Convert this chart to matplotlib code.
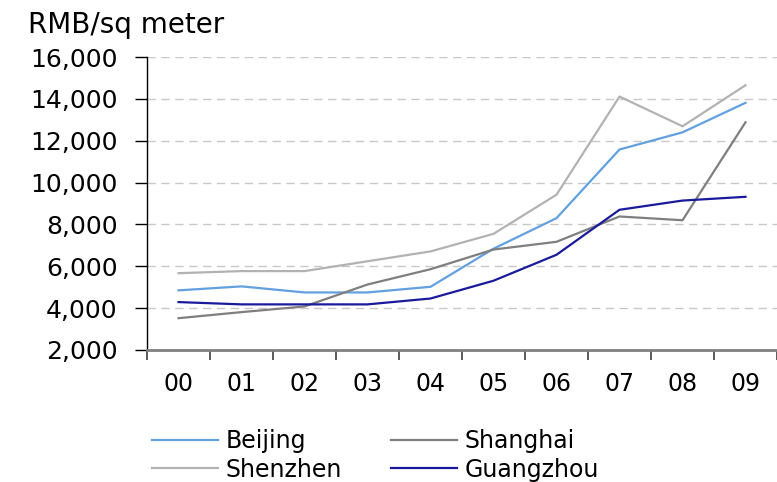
import matplotlib
matplotlib.use("Agg")
import matplotlib.pyplot as plt
import numpy as np

plt.rcParams['font.family'] = ['DejaVu Sans']

years = ["00", "01", "02", "03", "04", "05", "06", "07", "08", "09"]
beijing = [4850, 5040, 4750, 4750, 5020, 6840, 8300, 11580, 12400, 13810]
shanghai = [3520, 3810, 4080, 5130, 5860, 6800, 7170, 8380, 8200, 12880]
shenzhen = [5670, 5770, 5770, 6240, 6710, 7550, 9420, 14110, 12690, 14650]
guangzhou = [4290, 4180, 4180, 4180, 4460, 5310, 6550, 8700, 9140, 9320]
yticks = [2000, 4000, 6000, 8000, 10000, 12000, 14000, 16000]

fs = 17
fig = plt.figure(figsize=(7.77, 4.82), dpi=100)
ax = fig.add_axes([147/777, 1 - 350/482, 630/777, 293/482])

x = np.arange(len(years))
lw = 1.6
l_bj, = ax.plot(x, beijing, color="#62A0E0", lw=lw, label="Beijing")
l_sh, = ax.plot(x, shanghai, color="#7F7F7F", lw=lw, label="Shanghai")
l_sz, = ax.plot(x, shenzhen, color="#B2B2B2", lw=lw, label="Shenzhen")
l_gz, = ax.plot(x, guangzhou, color="#1A1A9C", lw=lw, label="Guangzhou")

ax.set_xlim(-0.5, len(years) - 0.5)
ax.set_ylim(2000, 16000)
ax.set_yticks(yticks)
ax.set_yticklabels([f"{v:,}" for v in yticks], fontsize=18)
for v in yticks[1:]:
    ax.axhline(v, color="#C8C8C8", lw=1.0, ls=(0, (6, 4)), zorder=0)

ax.set_xticks(np.arange(len(years) + 1) - 0.5)
ax.set_xticklabels([])
ax.set_xticks(x, minor=True)
ax.set_xticklabels(years, minor=True, fontsize=fs)
ax.tick_params(axis='x', which='major', direction='out', length=7, width=1.2, color="#404040")
ax.tick_params(axis='x', which='minor', length=0, pad=16)
ax.tick_params(axis='y', direction='out', length=9, width=1, pad=12, color="black")

for s in ["top", "right"]:
    ax.spines[s].set_visible(False)
ax.spines["left"].set_color("black")
ax.spines["left"].set_linewidth(1.0)
ax.spines["bottom"].set_color("#808080")
ax.spines["bottom"].set_linewidth(2.0)

fig.text(28/777, 1 - 33/482, "RMB/sq meter", fontsize=20, ha="left", va="baseline")

fig.legend(handles=[l_bj, l_sz, l_sh, l_gz], labels=["Beijing", "Shenzhen", "Shanghai", "Guangzhou"],
           ncol=2, loc="upper left", bbox_to_anchor=(152/777, 1 - 429/482),
           frameon=False, fontsize=fs, handlelength=2.8, handletextpad=0.3,
           columnspacing=2.1, labelspacing=0.2, borderpad=0, borderaxespad=0)

fig.savefig("out.png", dpi=100)
